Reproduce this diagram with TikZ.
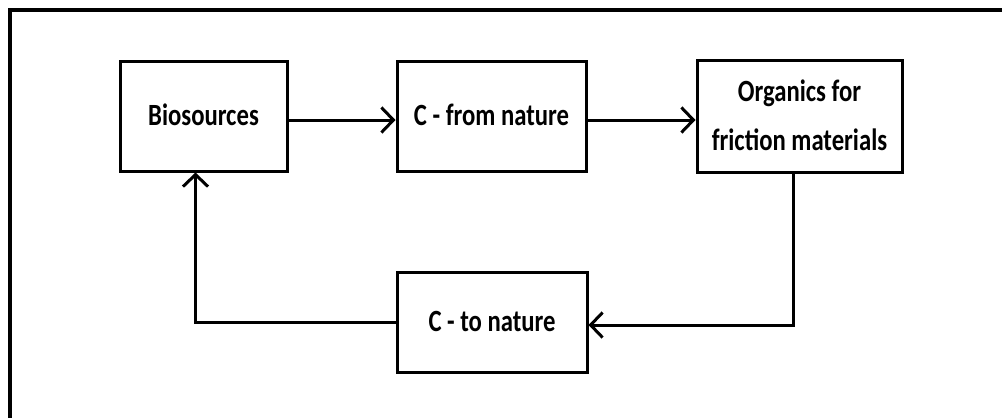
\documentclass[tikz,border=0pt]{standalone}
\usepackage{fontspec}
\setmainfont{Carlito}
\usepackage{graphicx}
\usetikzlibrary{arrows.meta}

% narrow, tall labels; two-line labels via a centred tabular
\newcommand{\boxlabel}[1]{\scalebox{0.8}[1]{\fontsize{31}{50}\selectfont\bfseries
  \begin{tabular}{@{}c@{}}#1\end{tabular}}}

\tikzset{
  stage/.style={draw, line width=3bp, inner sep=0pt, align=center},
  flow/.style={line width=3bp, -{Straight Barb[length=12bp, width=25bp, line width=3bp]}},
  frame/.style={line width=3.3bp}
}

\begin{document}
\begin{tikzpicture}[x=1bp, y=-1bp]
  \useasboundingbox (0,0) rectangle (1002,417);
  \clip (0,0) rectangle (1002,417);

  % surrounding frame, open past the right and bottom edges
  \draw[frame] (10,430) -- (10,10) -- (1020,10);

  \node[stage, minimum width=167bp, minimum height=110bp] (bio)  at (203.5,116) {\boxlabel{Biosources}};
  \node[stage, minimum width=189bp, minimum height=110bp] (from) at (491.5,116) {\boxlabel{C - from nature}};
  \node[stage, minimum width=205bp, minimum height=112bp] (org)  at (799.5,116) {\boxlabel{Organics for\\friction materials}};
  \node[stage, minimum width=190bp, minimum height=100bp] (to)   at (492,322)   {\boxlabel{C - to nature}};

  \draw[flow] ([yshift=-4bp]bio.east) -- ([yshift=-4bp]from.west);
  \draw[flow] ([yshift=-4bp]from.east) -- ([yshift=-4bp]org.west);
  \draw[flow] ([xshift=-6bp]org.south) |- ([yshift=-3bp]to.east);
  \draw[flow] (to.west) -| ([xshift=-8bp]bio.south);
\end{tikzpicture}
\end{document}
